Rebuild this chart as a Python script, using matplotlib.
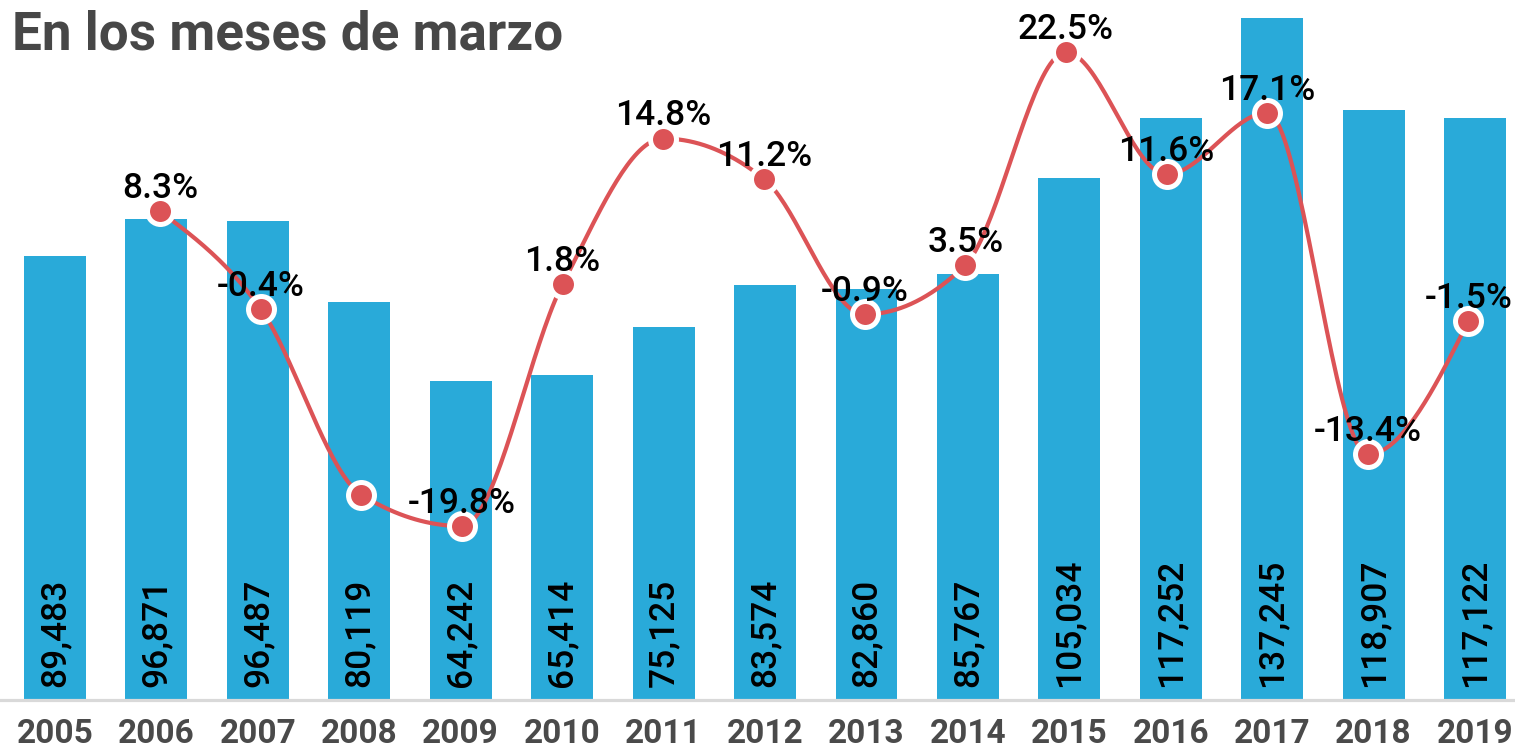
import numpy as np
import matplotlib
matplotlib.use("Agg")
import matplotlib.pyplot as plt

years = [2005, 2006, 2007, 2008, 2009, 2010, 2011, 2012, 2013, 2014,
         2015, 2016, 2017, 2018, 2019]
totals = [89483, 96871, 96487, 80119, 64242, 65414, 75125, 83574, 82860,
          85767, 105034, 117252, 137245, 118907, 117122]
growth_years = [2006, 2007, 2008, 2009, 2010, 2011, 2012, 2013, 2014,
                2015, 2016, 2017, 2018, 2019]
growth = [8.3, -0.4, -17.0, -19.8, 1.8, 14.8, 11.2, -0.9, 3.5, 22.5,
          11.6, 17.1, -13.4, -1.5]
growth_labels = ["8.3%", "-0.4%", "", "-19.8%", "1.8%", "14.8%", "11.2%",
                 "-0.9%", "3.5%", "22.5%", "11.6%", "17.1%", "-13.4%", "-1.5%"]
title = "En los meses de marzo"

BAR = "#29AAD9"
RED = "#DC5356"
W, H = 1515, 751
fig = plt.figure(figsize=(W / 100, H / 100), dpi=100)
pos = [0, 1 - 700 / H, 1, 700 / H]
ax = fig.add_axes(pos)
x = np.arange(len(years))
ax.bar(x, totals, width=0.61, color=BAR, zorder=1)
ax.set_xlim(-55 / 101.43, (W - 55) / 101.43)
ax.set_ylim(0, 140960)
for s in ["top", "left", "right"]:
    ax.spines[s].set_visible(False)
ax.spines["bottom"].set_color("#d9d9d9")
ax.spines["bottom"].set_linewidth(2.3)
ax.set_yticks([])
ax.set_xticks(x)
ax.set_xticklabels([str(y) for y in years], fontfamily="Roboto",
                   fontweight="bold", fontsize=24, color="#4a4a4a")
ax.tick_params(axis="x", length=0, pad=13)
for xi, v in zip(x, totals):
    ax.annotate(f"{v:,}", (xi, 0), xytext=(0, 9.5), textcoords="offset points",
                rotation=90, ha="center", va="bottom", fontsize=25.5,
                fontweight="medium",
                fontfamily="Roboto", color="black", zorder=2)

ax2 = fig.add_axes(pos, sharex=None)
ax2.patch.set_visible(False)
ax2.axis("off")
xmin2 = 1 - 160 / 100.65
ax2.set_xlim(xmin2, xmin2 + W / 100.65)
ax2.set_ylim(-35.33, 27.17)

gx = np.array([years.index(y) for y in growth_years], dtype=float)
gy = np.array(growth, dtype=float)

# monotone-x cubic (d3 style)
n = len(gx)
h = np.diff(gx)
sl = np.diff(gy) / h
t = np.zeros(n)
for i in range(1, n - 1):
    s0, s1 = sl[i - 1], sl[i]
    p = (s0 * h[i] + s1 * h[i - 1]) / (h[i - 1] + h[i])
    t[i] = (np.sign(s0) + np.sign(s1)) * min(abs(s0), abs(s1), 0.5 * abs(p))
t[0] = (3 * sl[0] - t[1]) / 2
t[-1] = (3 * sl[-1] - t[-2]) / 2
cx, cy = [], []
for i in range(n - 1):
    dx = h[i]
    p0 = np.array([gx[i], gy[i]])
    p1 = np.array([gx[i] + dx / 3, gy[i] + dx * t[i] / 3])
    p2 = np.array([gx[i + 1] - dx / 3, gy[i + 1] - dx * t[i + 1] / 3])
    p3 = np.array([gx[i + 1], gy[i + 1]])
    u = np.linspace(0, 1, 40)[:, None]
    pts = ((1 - u) ** 3) * p0 + 3 * ((1 - u) ** 2) * u * p1 + 3 * (1 - u) * u ** 2 * p2 + u ** 3 * p3
    cx.extend(pts[:, 0]); cy.extend(pts[:, 1])
ax2.plot(cx, cy, color=RED, lw=3.0, zorder=3, solid_capstyle="round")
ax2.plot(gx, gy, ls="none", marker="o", ms=18.7, mfc=RED, mec="white",
         mew=3.6, zorder=4)
for xi, yi, lab in zip(gx, gy, growth_labels):
    if lab:
        ax2.annotate(lab, (xi, yi), xytext=(0, 9.4), textcoords="offset points",
                     ha="center", va="baseline", fontsize=25.5,
                     fontweight="medium",
                     fontfamily="Roboto", color="black", zorder=5)

fig.text(12 / W, 1 - 50 / H, title, fontsize=38.2, fontweight="bold",
         fontfamily="Roboto", color="#474747", ha="left", va="baseline")

fig.savefig("out.png", dpi=100)
